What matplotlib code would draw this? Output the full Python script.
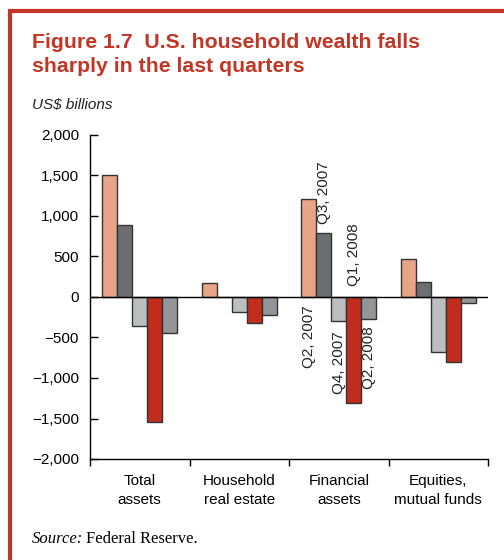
import numpy as np
from matplotlib import pyplot as plt
from matplotlib.lines import Line2D

# data (US$ billions)
categories = ["Total\nassets", "Household\nreal estate", "Financial\nassets", "Equities,\nmutual funds"]
quarters = ["Q2, 2007", "Q3, 2007", "Q4, 2007", "Q1, 2008", "Q2, 2008"]
q2_2007 = [1510, 175, 1205, 465]
q3_2007 = [890, 0, 785, 180]
q4_2007 = [-360, -190, -300, -675]
q1_2008 = [-1540, -320, -1305, -805]
q2_2008 = [-445, -220, -270, -80]

series = [q2_2007, q3_2007, q4_2007, q1_2008, q2_2008]
colors = ["#E8A486", "#6D6E71", "#BDBEC0", "#C12D1C", "#949598"]
red = "#C33524"

plt.rcParams['font.family'] = ['Liberation Sans', 'DejaVu Sans']

fig = plt.figure(figsize=(5.04, 5.6), dpi=100)
ax = fig.add_axes([90 / 504, 1 - 459 / 560, 398 / 504, 324 / 560])

width = 0.15
x = np.arange(len(categories))
for i, vals in enumerate(series):
    ax.bar(x + (i - 2) * width, vals, width, color=colors[i],
           edgecolor="#333333", linewidth=1, zorder=2)

ax.axhline(0, color="black", linewidth=1, zorder=3)

ax.set_xlim(-0.5, len(categories) - 0.5)
ax.set_ylim(-2000, 2000)
ax.set_yticks(np.arange(-2000, 2001, 500))
ax.set_yticklabels([f"{v:,}".replace("-", "\u2212") for v in range(-2000, 2001, 500)])
ax.set_xticks(np.arange(-0.5, len(categories), 1))
ax.set_xticklabels([])
ax.set_xticks(x, minor=True)
ax.set_xticklabels(categories, minor=True, fontsize=11, linespacing=1.4)
ax.tick_params(axis="x", which="minor", length=0, pad=11)
ax.tick_params(axis="x", which="major", direction="out", length=5, width=1)
ax.tick_params(axis="y", direction="in", length=6, width=1, labelsize=11, pad=8)
for s in ["top", "right"]:
    ax.spines[s].set_visible(False)
for s in ["left", "bottom"]:
    ax.spines[s].set_linewidth(1)

# quarter labels on the financial assets group
grp = 2
label_spec = [(0, 0, -6, "top"), (1, q3_2007[grp], 7, "bottom"), (2, q4_2007[grp], -7, "top"),
              (3, 0, 8, "bottom"), (4, q2_2008[grp], -5, "top")]
for i, yv, off, va in label_spec:
    ax.annotate(quarters[i], (grp + (i - 2) * width, yv), xytext=(0, off),
                textcoords="offset points", rotation=90, ha="center", va=va,
                fontsize=11, color="#222222")

# titles and notes
fig.text(32 / 504, 1 - 33 / 560, "Figure 1.7  U.S. household wealth falls\nsharply in the last quarters",
         fontsize=15.3, fontweight="bold", color=red, va="top", ha="left", linespacing=1.3)
fig.text(32 / 504, 1 - 105 / 560, "US$ billions", fontsize=11, style="italic",
         color="#222222", va="center", ha="left")

src = fig.text(32 / 504, 1 - 539 / 560, "Source:", fontsize=12, style="italic",
               family="Liberation Serif", va="center", ha="left")
fig.canvas.draw()
bb = src.get_window_extent()
fig.text((bb.x1 + 3) / 504, 1 - 539 / 560, "Federal Reserve.", fontsize=12,
         family="Liberation Serif", va="center", ha="left")

# red frame (top and left)
fig.add_artist(Line2D([8 / 504, 1], [1 - 11 / 560, 1 - 11 / 560], color=red, linewidth=3,
                      transform=fig.transFigure, solid_capstyle="butt"))
fig.add_artist(Line2D([10 / 504, 10 / 504], [1 - 9 / 560, 0], color=red, linewidth=3,
                      transform=fig.transFigure, solid_capstyle="butt"))

fig.savefig("out.png", dpi=100)
